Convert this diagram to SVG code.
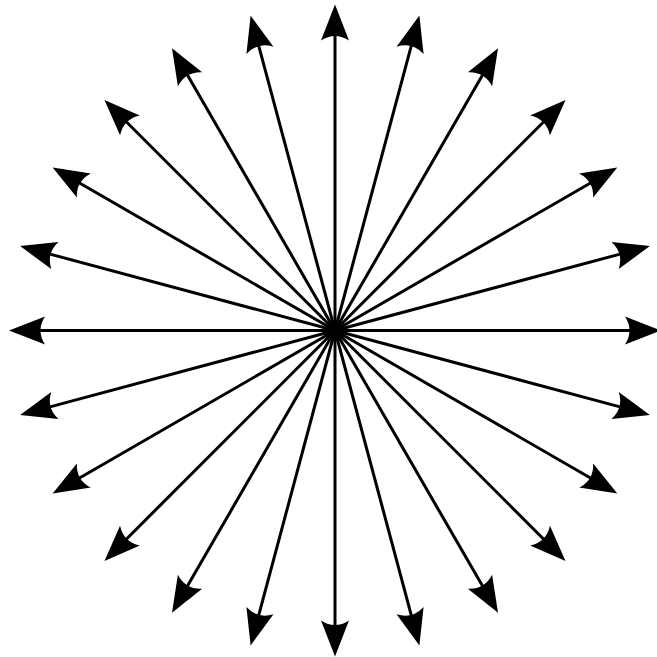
<svg xmlns="http://www.w3.org/2000/svg" width="657" height="657" viewBox="0 0 657 657">
<defs>
<marker id="ah" markerUnits="userSpaceOnUse" markerWidth="60" markerHeight="40" refX="0" refY="0" orient="auto" overflow="visible">
<path d="M28,0 L-8,-14 Q1,0 -8,14 Z" fill="#000"/>
</marker>
<style>.r{stroke:#000;stroke-width:3;fill:none;marker-end:url(#ah)}</style>
</defs>
<rect width="657" height="657" fill="#fff"/>
<g id="connectors" transform="translate(335,330.5)">
<line class="r" x1="0" y1="0" x2="298" y2="0" transform="rotate(0)"/>
<line class="r" x1="0" y1="0" x2="298" y2="0" transform="rotate(15)"/>
<line class="r" x1="0" y1="0" x2="298" y2="0" transform="rotate(30)"/>
<line class="r" x1="0" y1="0" x2="298" y2="0" transform="rotate(45)"/>
<line class="r" x1="0" y1="0" x2="298" y2="0" transform="rotate(60)"/>
<line class="r" x1="0" y1="0" x2="298" y2="0" transform="rotate(75)"/>
<line class="r" x1="0" y1="0" x2="298" y2="0" transform="rotate(90)"/>
<line class="r" x1="0" y1="0" x2="298" y2="0" transform="rotate(105)"/>
<line class="r" x1="0" y1="0" x2="298" y2="0" transform="rotate(120)"/>
<line class="r" x1="0" y1="0" x2="298" y2="0" transform="rotate(135)"/>
<line class="r" x1="0" y1="0" x2="298" y2="0" transform="rotate(150)"/>
<line class="r" x1="0" y1="0" x2="298" y2="0" transform="rotate(165)"/>
<line class="r" x1="0" y1="0" x2="298" y2="0" transform="rotate(180)"/>
<line class="r" x1="0" y1="0" x2="298" y2="0" transform="rotate(195)"/>
<line class="r" x1="0" y1="0" x2="298" y2="0" transform="rotate(210)"/>
<line class="r" x1="0" y1="0" x2="298" y2="0" transform="rotate(225)"/>
<line class="r" x1="0" y1="0" x2="298" y2="0" transform="rotate(240)"/>
<line class="r" x1="0" y1="0" x2="298" y2="0" transform="rotate(255)"/>
<line class="r" x1="0" y1="0" x2="298" y2="0" transform="rotate(270)"/>
<line class="r" x1="0" y1="0" x2="298" y2="0" transform="rotate(285)"/>
<line class="r" x1="0" y1="0" x2="298" y2="0" transform="rotate(300)"/>
<line class="r" x1="0" y1="0" x2="298" y2="0" transform="rotate(315)"/>
<line class="r" x1="0" y1="0" x2="298" y2="0" transform="rotate(330)"/>
<line class="r" x1="0" y1="0" x2="298" y2="0" transform="rotate(345)"/>
</g>
</svg>
